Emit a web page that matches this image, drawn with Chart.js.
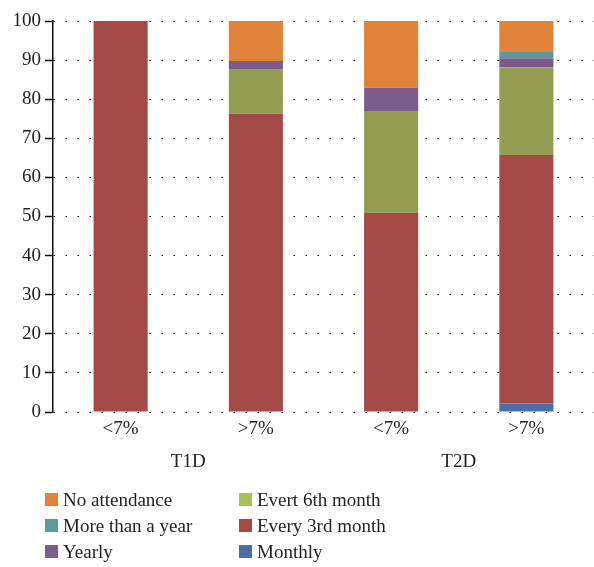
<!DOCTYPE html>
<html>
<head>
<meta charset="utf-8">
<script src="https://cdn.jsdelivr.net/npm/chart.js@4"></script>
<style>
  html, body { margin: 0; padding: 0; background: #fff; }
  #wrap { position: relative; width: 594px; height: 567px; }
  #c { position: absolute; left: 0; top: 0; }
  #legend { position: absolute; left: 0; top: 0; width: 594px; height: 567px; pointer-events: none;
            font-family: "Liberation Serif", "DejaVu Serif", serif; font-size: 19px; color: #222; }
  .item { position: absolute; white-space: nowrap; line-height: 26px; height: 26px; }
  .sw { position: absolute; width: 13px; height: 13px; top: 6px; left: 0; }
  .lab { position: absolute; left: 18px; top: 0; }
</style>
</head>
<body>
<div id="wrap">
  <canvas id="c" width="594" height="480"></canvas>
  <div id="legend"></div>
</div>
<script>
// ---- data ----
const subLabels = ["<7%", ">7%", "<7%", ">7%"];
const groupLabels = ["T1D", "T2D"];
const yTicks = [0, 10, 20, 30, 40, 50, 60, 70, 80, 90, 100];

const monthly      = [0,   0,    0,    2.2];
const every3rd     = [100, 76.3, 50.9, 63.5];
const every6th     = [0,   11.4, 26.1, 22.5];
const yearly       = [0,   2.1,  5.9,  2.3];
const moreThanYear = [0,   0,    0,    1.6];
const noAttendance = [0,   10.2, 17.1, 7.9];

const seriesNames = ["Monthly", "Every 3rd month", "Evert 6th month", "Yearly", "More than a year", "No attendance"];
const seriesValues = [monthly, every3rd, every6th, yearly, moreThanYear, noAttendance];
const barColors = ["#4A6FA5", "#A64A48", "#939E52", "#7C5C8C", "#5B9A9A", "#E0823A"];
const legendColors = ["#4A6FA5", "#A64A48", "#A6C456", "#7C5C8C", "#5B9A9A", "#E0823A"];

const FONT = "'Liberation Serif', 'DejaVu Serif', serif";

const datasets = seriesNames.map((n, i) => ({
  label: n,
  data: seriesValues[i],
  backgroundColor: barColors[i],
  borderWidth: 0,
  barPercentage: 0.4,
  categoryPercentage: 1.0,
  stack: "s"
}));

new Chart(document.getElementById("c"), {
  type: "bar",
  data: { labels: subLabels, datasets },
  options: {
    responsive: false,
    animation: false,
    layout: { padding: { top: 21, right: 0, left: 0, bottom: 0 } },
    plugins: { legend: { display: false }, tooltip: { enabled: false } },
    scales: {
      x: {
        stacked: true,
        offset: true,
        grid: { display: false },
        border: { display: false },
        ticks: { color: "#222", font: { family: FONT, size: 19 }, padding: -2 },
        afterFit: s => { s.height = 32; }
      },
      x2: {
        type: "category",
        labels: groupLabels,
        position: "bottom",
        offset: true,
        grid: { display: false },
        border: { display: false },
        ticks: { color: "#222", font: { family: FONT, size: 19 }, padding: -1 },
        afterFit: s => { s.height = 36; }
      },
      y: {
        stacked: true,
        min: 0,
        max: 100,
        afterBuildTicks: s => { s.ticks = yTicks.map(v => ({ value: v })); },
        afterFit: s => { s.width = 53; },
        grid: {
          color: "#111",
          lineWidth: 1,
          drawTicks: true,
          tickLength: 8,
          tickColor: "#111",
          tickBorderDash: [],
          tickWidth: 1.5
        },
        border: { display: true, color: "#111", width: 1.5, dash: [1.5, 10.5], dashOffset: -12 },
        ticks: { color: "#222", font: { family: FONT, size: 19 }, padding: 4 }
      }
    }
  }
});

// ---- HTML legend (two columns) ----
const legendOrder = [
  { idx: 5, x: 45,  y: 487 },
  { idx: 4, x: 45,  y: 513 },
  { idx: 3, x: 45,  y: 539 },
  { idx: 2, x: 239, y: 487 },
  { idx: 1, x: 239, y: 513 },
  { idx: 0, x: 239, y: 539 }
];
const lg = document.getElementById("legend");
legendOrder.forEach(o => {
  const d = document.createElement("div");
  d.className = "item";
  d.style.left = o.x + "px";
  d.style.top = o.y + "px";
  d.innerHTML = '<span class="sw" style="background:' + legendColors[o.idx] + '"></span><span class="lab"></span>';
  d.querySelector(".lab").textContent = seriesNames[o.idx];
  lg.appendChild(d);
});
</script>
</body>
</html>
